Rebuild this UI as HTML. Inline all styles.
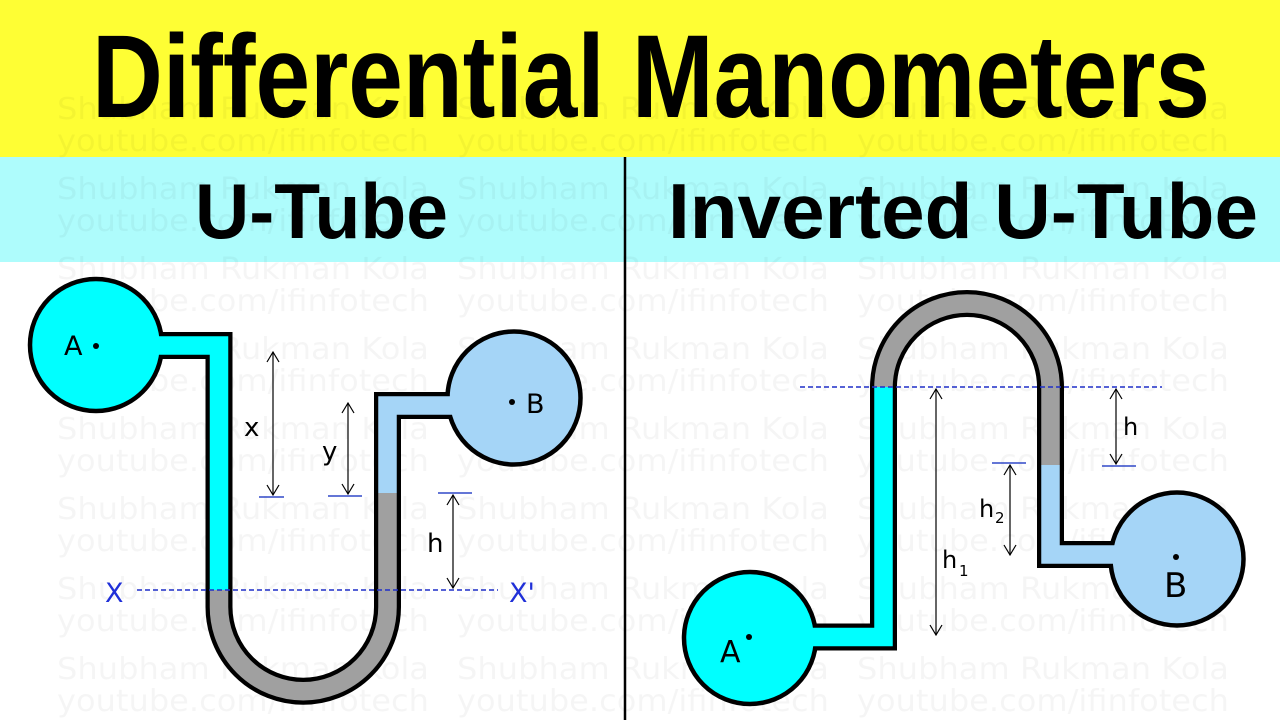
<!DOCTYPE html>
<html><head><meta charset="utf-8"><style>
html,body{margin:0;padding:0;background:#fff;}
svg{display:block;}
</style></head><body>
<svg width="1280" height="720" viewBox="0 0 1280 720" xmlns="http://www.w3.org/2000/svg">
<rect x="0" y="0" width="1280" height="720" fill="#ffffff"/>
<rect x="0" y="0" width="1280" height="157" fill="#fefe34"/>
<rect x="0" y="157" width="1280" height="105" fill="#aefcfc"/>

<!-- watermark -->
<g font-family="DejaVu Sans, Liberation Sans, sans-serif" font-size="30" fill="#000" fill-opacity="0.04">
<g id="wm">
<text x="57" y="119" textLength="372" lengthAdjust="spacingAndGlyphs">Shubham Rukman Kola</text>
<text x="57" y="151" textLength="372" lengthAdjust="spacingAndGlyphs">youtube.com/ifinfotech</text>
<text x="457" y="119" textLength="372" lengthAdjust="spacingAndGlyphs">Shubham Rukman Kola</text>
<text x="457" y="151" textLength="372" lengthAdjust="spacingAndGlyphs">youtube.com/ifinfotech</text>
<text x="857" y="119" textLength="372" lengthAdjust="spacingAndGlyphs">Shubham Rukman Kola</text>
<text x="857" y="151" textLength="372" lengthAdjust="spacingAndGlyphs">youtube.com/ifinfotech</text>
</g>
<use href="#wm" y="80"/>
<use href="#wm" y="160"/>
<use href="#wm" y="240"/>
<use href="#wm" y="320"/>
<use href="#wm" y="400"/>
<use href="#wm" y="480"/>
<use href="#wm" y="560"/>
</g>

<!-- titles -->
<text x="92" y="117" font-family="Liberation Sans, Arial, sans-serif" font-weight="bold" font-size="118" textLength="1118" lengthAdjust="spacingAndGlyphs" fill="#000">Differential Manometers</text>
<text x="195" y="238" font-family="Liberation Sans, Arial, sans-serif" font-weight="bold" font-size="78" textLength="253" lengthAdjust="spacingAndGlyphs" fill="#000">U-Tube</text>
<text x="668" y="238" font-family="Liberation Sans, Arial, sans-serif" font-weight="bold" font-size="78" textLength="590" lengthAdjust="spacingAndGlyphs" fill="#000">Inverted U-Tube</text>

<!-- divider -->
<line x1="625" y1="157" x2="625" y2="720" stroke="#000" stroke-width="2.5"/>

<!-- ===== LEFT: U-Tube ===== -->
<g fill="none" stroke-linejoin="miter">
  <path d="M150 345.5 H219 V607 A84.25 84.25 0 0 0 387.5 607 V405.5 H470" stroke="#000" stroke-width="27"/>
</g>
<circle cx="96" cy="345" r="66" fill="#00ffff" stroke="#000" stroke-width="4.5"/>
<circle cx="514" cy="398" r="66.5" fill="#a5d5f7" stroke="#000" stroke-width="4.5"/>
<g fill="none" stroke-linejoin="miter">
  <path d="M150 345.5 H219 V590" stroke="#00ffff" stroke-width="18.5"/>
  <path d="M219 590 V607 A84.25 84.25 0 0 0 387.5 607 V493" stroke="#a0a0a0" stroke-width="18.5"/>
  <path d="M387.5 493 V405.5 H470" stroke="#a5d5f7" stroke-width="18.5"/>
</g>
<circle cx="96" cy="346" r="3" fill="#000"/>
<text x="64" y="355" font-family="DejaVu Sans, sans-serif" font-size="27" fill="#000">A</text>
<circle cx="512" cy="402" r="3" fill="#000"/>
<text x="526" y="413" font-family="DejaVu Sans, sans-serif" font-size="27" fill="#000">B</text>

<!-- X-X' line -->
<line x1="137" y1="590" x2="498" y2="590" stroke="#1f2fc8" stroke-width="1.4" stroke-dasharray="5 3"/>
<text x="105" y="602" font-family="DejaVu Sans, sans-serif" font-size="27" fill="#1f2fd8">X</text>
<text x="509" y="602" font-family="DejaVu Sans, sans-serif" font-size="27" fill="#1f2fd8">X'</text>

<!-- markers left -->
<g stroke="#3048c8" stroke-width="1.6">
  <line x1="259" y1="497" x2="284" y2="497"/>
  <line x1="328" y1="496" x2="362" y2="496"/>
  <line x1="438" y1="493" x2="472" y2="493"/>
</g>
<g stroke="#000" stroke-width="1.2" fill="none">
  <line x1="273" y1="352" x2="273" y2="495"/>
  <path d="M267 362 L273 352 L279 362 M267 485 L273 495 L279 485"/>
  <line x1="348" y1="403" x2="348" y2="494"/>
  <path d="M342 413 L348 403 L354 413 M342 484 L348 494 L354 484"/>
  <line x1="453" y1="495" x2="453" y2="588"/>
  <path d="M447 505 L453 495 L459 505 M447 578 L453 588 L459 578"/>
</g>
<g font-family="DejaVu Sans, sans-serif" font-size="26" fill="#000">
  <text x="244" y="436">x</text>
  <text x="322" y="460">y</text>
  <text x="427" y="552">h</text>
</g>

<!-- ===== RIGHT: Inverted U-Tube ===== -->
<g fill="none" stroke-linejoin="miter">
  <path d="M800 637 H883.5 V387 A83.5 83.5 0 0 1 1050.5 387 V554.5 H1135" stroke="#000" stroke-width="27"/>
</g>
<circle cx="750" cy="638" r="66" fill="#00ffff" stroke="#000" stroke-width="4.5"/>
<circle cx="1177" cy="559" r="66.5" fill="#a5d5f7" stroke="#000" stroke-width="4.5"/>
<g fill="none" stroke-linejoin="miter">
  <path d="M800 637 H883.5 V387" stroke="#00ffff" stroke-width="18.5"/>
  <path d="M883.5 387 A83.5 83.5 0 0 1 1050.5 387 V465" stroke="#a0a0a0" stroke-width="18.5"/>
  <path d="M1050.5 465 V554.5 H1135" stroke="#a5d5f7" stroke-width="18.5"/>
</g>
<circle cx="749" cy="637" r="3" fill="#000"/>
<text x="720" y="662" font-family="DejaVu Sans, sans-serif" font-size="30" fill="#000">A</text>
<circle cx="1176" cy="557" r="3" fill="#000"/>
<text x="1164" y="597" font-family="DejaVu Sans, sans-serif" font-size="34" fill="#000">B</text>

<line x1="800" y1="387" x2="1162" y2="387" stroke="#1f2fc8" stroke-width="1.4" stroke-dasharray="5 3"/>

<g stroke="#3048c8" stroke-width="1.6">
  <line x1="1102" y1="466" x2="1136" y2="466"/>
  <line x1="992" y1="463" x2="1026" y2="463"/>
</g>
<g stroke="#000" stroke-width="1.2" fill="none">
  <line x1="936" y1="389" x2="936" y2="635"/>
  <path d="M930 399 L936 389 L942 399 M930 625 L936 635 L942 625"/>
  <line x1="1116" y1="389" x2="1116" y2="464"/>
  <path d="M1110 399 L1116 389 L1122 399 M1110 454 L1116 464 L1122 454"/>
  <line x1="1010" y1="465" x2="1010" y2="555"/>
  <path d="M1004 475 L1010 465 L1016 475 M1004 545 L1010 555 L1016 545"/>
</g>
<g font-family="DejaVu Sans, sans-serif" fill="#000">
  <text x="942" y="568" font-size="24">h</text>
  <text x="959" y="576" font-size="15">1</text>
  <text x="979" y="517" font-size="24">h</text>
  <text x="995" y="523" font-size="15">2</text>
  <text x="1123" y="435" font-size="24">h</text>
</g>
</svg>
</body></html>
